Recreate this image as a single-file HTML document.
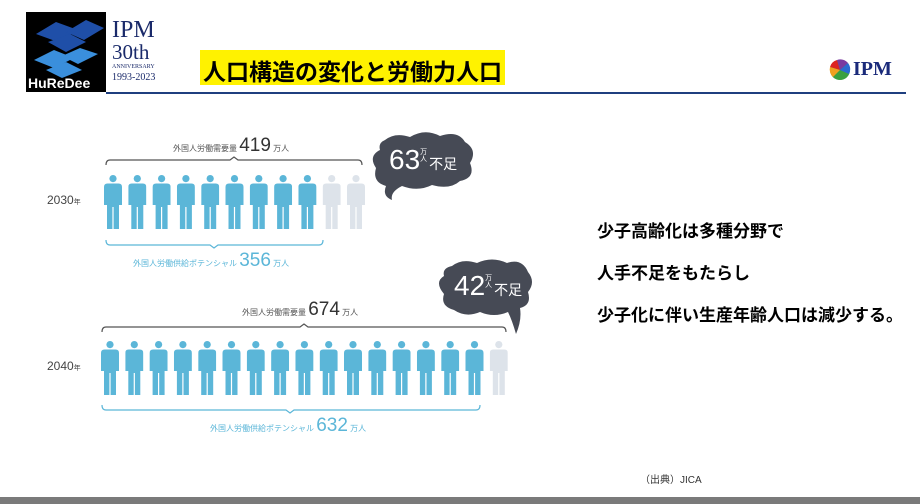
<!DOCTYPE html>
<html><head><meta charset="utf-8"><style>
body{margin:0;width:920px;height:504px;background:#fff;position:relative;overflow:hidden;font-family:"Liberation Sans","Noto Sans CJK JP",sans-serif}
.a{position:absolute;white-space:nowrap}
</style></head><body>
<div class="a" style="left:26px;top:12px;width:80px;height:80px;background:#000"></div>
<svg class="a" style="left:26px;top:12px" width="80" height="80">
<polygon points="10,22 30,10 52,18 32,30" fill="#1f4fa8"/>
<polygon points="40,20 60,8 78,16 58,28" fill="#1f4fa8"/>
<polygon points="22,30 44,22 60,30 40,40" fill="#1f4fa8"/>
<polygon points="8,48 28,38 48,46 28,56" fill="#3a8fdc"/>
<polygon points="36,44 54,36 72,42 52,52" fill="#3a8fdc"/>
<polygon points="20,58 40,50 56,58 36,66" fill="#3a8fdc"/>
</svg>
<div class="a" style="left:28px;top:75px;color:#fff;font-size:14px;font-weight:bold">HuReDee</div>
<div class="a" style="left:112px;top:18px;color:#1a2a6a;font-family:'Liberation Serif',serif;font-size:24px;line-height:24px">IPM</div>
<div class="a" style="left:112px;top:42px;color:#1a2a6a;font-family:'Liberation Serif',serif;font-size:21px;line-height:21px">30th</div>
<div class="a" style="left:112px;top:64px;color:#1a2a6a;font-family:'Liberation Serif',serif;font-size:6px">ANNIVERSARY</div>
<div class="a" style="left:112px;top:72px;color:#1a2a6a;font-family:'Liberation Serif',serif;font-size:10px">1993-2023</div>
<div class="a" style="left:200px;top:50px;width:305px;height:35px;background:#fff200"></div>
<div class="a" style="left:203px;top:53px;font-size:23px;font-weight:bold;color:#000">人口構造の変化と労働力人口</div>
<div class="a" style="left:106px;top:92px;width:800px;height:2px;background:#1f3f7f"></div>
<svg class="a" style="left:828px;top:59px" width="24" height="22">
<circle cx="12" cy="11" r="10" fill="#3aa040"/><path d="M12 11 L2 8 A10 10 0 0 1 9 1Z" fill="#d22"/><path d="M12 11 L9 1 A10 10 0 0 1 20 4Z" fill="#7a3aa0"/><path d="M12 11 L20 4 A10 10 0 0 1 21 15Z" fill="#2a6ad0"/><path d="M12 11 L2 8 A10 10 0 0 0 5 18Z" fill="#f0a020"/>
</svg>
<div class="a" style="left:853px;top:58px;color:#1a2a7a;font-family:'Liberation Serif',serif;font-weight:bold;font-size:20px">IPM</div>

<svg class="a" style="left:0;top:0" width="920" height="504">
<defs><symbol id="p" viewBox="0 0 18 54" width="18" height="54">
<circle cx="9" cy="3.6" r="3.6"/>
<path d="M0 12 Q0 8.5 3.5 8.5 L14.5 8.5 Q18 8.5 18 12 L18 30 L15 30 L15 54 L9.6 54 L9.6 32 L8.4 32 L8.4 54 L3 54 L3 30 L0 30Z"/>
</symbol></defs>
<g fill="#5bb6d8">
<use href="#p" x="104" y="175"/><use href="#p" x="128.3" y="175"/><use href="#p" x="152.6" y="175"/><use href="#p" x="176.9" y="175"/><use href="#p" x="201.2" y="175"/><use href="#p" x="225.5" y="175"/><use href="#p" x="249.8" y="175"/><use href="#p" x="274.1" y="175"/><use href="#p" x="298.4" y="175"/>
</g>
<g fill="#dde3ea"><use href="#p" x="322.7" y="175"/><use href="#p" x="347" y="175"/></g>
<g fill="#5bb6d8">
<use href="#p" x="101" y="341"/><use href="#p" x="125.3" y="341"/><use href="#p" x="149.6" y="341"/><use href="#p" x="173.9" y="341"/><use href="#p" x="198.2" y="341"/><use href="#p" x="222.5" y="341"/><use href="#p" x="246.8" y="341"/><use href="#p" x="271.1" y="341"/><use href="#p" x="295.4" y="341"/><use href="#p" x="319.7" y="341"/><use href="#p" x="344" y="341"/><use href="#p" x="368.3" y="341"/><use href="#p" x="392.6" y="341"/><use href="#p" x="416.9" y="341"/><use href="#p" x="441.2" y="341"/><use href="#p" x="465.5" y="341"/>
</g>
<g fill="#dde3ea"><use href="#p" x="489.8" y="341"/></g>
<g fill="none" stroke-width="1.2">
<path d="M106 165 Q106 160 110 160 L230 160 L234 157 L238 160 L358 160 Q362 160 362 165" stroke="#555"/>
<path d="M106 240 Q106 245 110 245 L210 245 L214 248 L218 245 L319 245 Q323 245 323 240" stroke="#5bb6d8"/>
<path d="M102 332 Q102 327 106 327 L300 327 L304 324 L308 327 L502 327 Q506 327 506 332" stroke="#555"/>
<path d="M102 405 Q102 410 106 410 L286 410 L290 413 L294 410 L476 410 Q480 410 480 405" stroke="#5bb6d8"/>
</g>
<path d="M385 140 Q395 132 410 137 Q425 128 440 136 Q458 130 465 142 Q478 150 470 163 Q476 178 460 181 Q450 190 432 185 Q418 192 402 186 Q390 192 392 200 Q382 196 386 186 Q372 182 376 168 Q368 156 380 150 Q378 143 385 140Z" fill="#464a55"/>
<path d="M452 266 Q462 258 477 263 Q492 256 507 263 Q522 258 528 272 Q536 282 528 292 Q532 305 520 308 Q522 320 516 334 Q512 320 508 312 Q494 318 480 312 Q466 318 454 310 Q440 306 444 294 Q434 282 444 276 Q442 268 452 266Z" fill="#464a55"/>
</svg>
<div class="a" style="left:389px;top:144px;color:#fff;font-size:28px">63<span style="font-size:7px;display:inline-block;width:9px;line-height:7px;vertical-align:8px;white-space:normal">万人</span><span style="font-size:14px">不足</span></div>
<div class="a" style="left:454px;top:270px;color:#fff;font-size:28px">42<span style="font-size:7px;display:inline-block;width:9px;line-height:7px;vertical-align:8px;white-space:normal">万人</span><span style="font-size:14px">不足</span></div>

<div class="a" style="left:173px;top:135px;color:#555;font-size:8px">外国人労働需要量 <span style="font-size:19px;color:#333">419</span> 万人</div>
<div class="a" style="left:133px;top:250px;color:#5bb6d8;font-size:8px">外国人労働供給ポテンシャル <span style="font-size:19px">356</span> 万人</div>
<div class="a" style="left:242px;top:299px;color:#555;font-size:8px">外国人労働需要量 <span style="font-size:19px;color:#333">674</span> 万人</div>
<div class="a" style="left:210px;top:415px;color:#5bb6d8;font-size:8px">外国人労働供給ポテンシャル <span style="font-size:19px">632</span> 万人</div>
<div class="a" style="left:47px;top:193px;color:#444;font-size:12px">2030<span style="font-size:7px">年</span></div>
<div class="a" style="left:47px;top:359px;color:#444;font-size:12px">2040<span style="font-size:7px">年</span></div>

<div class="a" style="left:597px;top:217px;font-size:17px;font-weight:bold;color:#000">少子高齢化は多種分野で</div>
<div class="a" style="left:597px;top:259px;font-size:17px;font-weight:bold;color:#000">人手不足をもたらし</div>
<div class="a" style="left:597px;top:301px;font-size:17px;font-weight:bold;color:#000">少子化に伴い生産年齢人口は減少する。</div>
<div class="a" style="left:640px;top:471px;font-size:10px;color:#333">（出典）JICA</div>
<div class="a" style="left:0;top:497px;width:920px;height:7px;background:#7a7a7a"></div>
</body></html>
